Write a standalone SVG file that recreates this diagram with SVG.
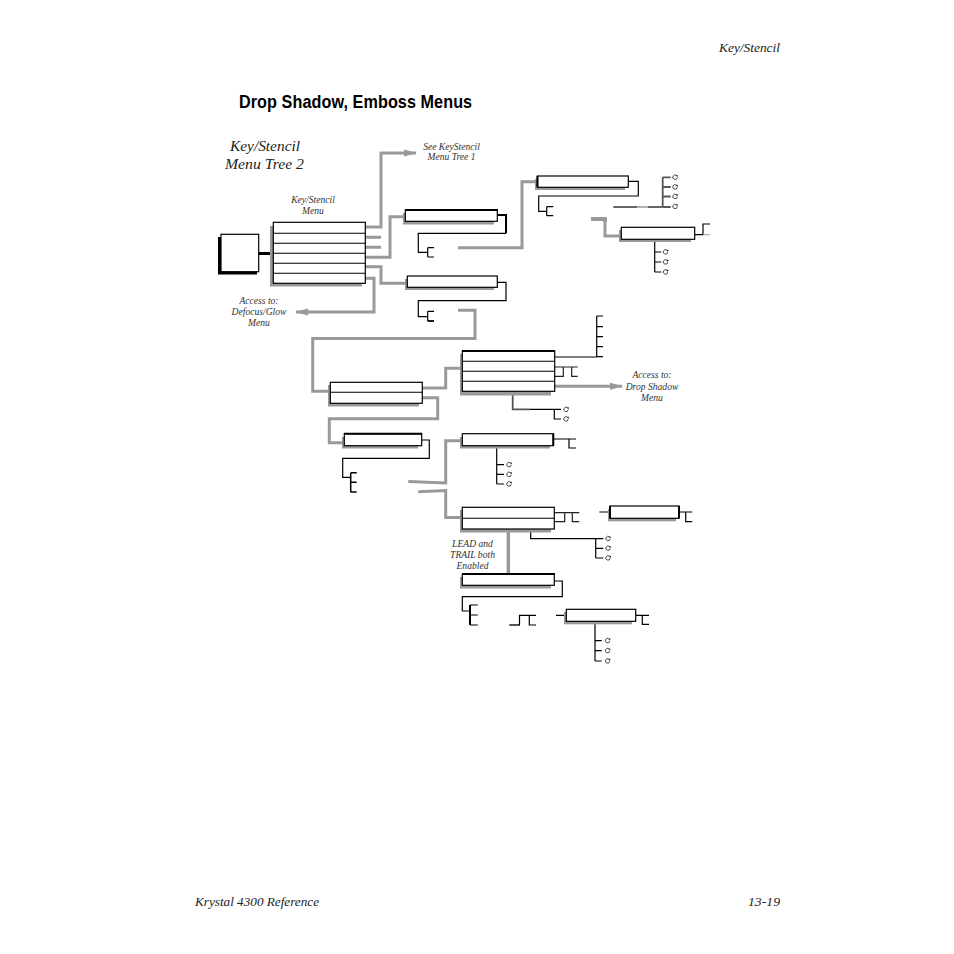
<svg xmlns="http://www.w3.org/2000/svg" width="954" height="954" viewBox="0 0 954 954">
<style>
text{font-family:"Liberation Serif",serif;font-style:italic;fill:#222}
.t8{font-size:9.6px;text-anchor:middle;fill:#333}
.g{fill:none;stroke:#999;stroke-width:3}
.k{fill:none;stroke:#000;stroke-width:1.2}
.d{fill:none;stroke:#555;stroke-width:1.8}
.n{fill:none;stroke:#222;stroke-width:1.2}
.b{fill:#fff;stroke:#000;stroke-width:1.2}
.s{fill:#999;stroke:none}
.l{stroke:#000;stroke-width:1.1}
.r{fill:none;stroke:#333;stroke-width:.9}
</style>
<defs>
<g id="c"><path class="r" d="M1.500 -1.700A2.200 2.200 0 1 0 2.200 .2"/><path d="M.9 -2.200L3.200 -1.900L2.200 -.1Z" fill="#222"/></g>
<marker id="ah" markerWidth="14" markerHeight="9" refX="12" refY="4" orient="auto-start-reverse" markerUnits="userSpaceOnUse"><path d="M0 .5L13 4L0 7.500Z" fill="#999"/></marker>
</defs>
<rect width="954" height="954" fill="#fff"/>
<text x="780" y="52" text-anchor="end" font-size="13.500" textLength="61" lengthAdjust="spacingAndGlyphs">Key/Stencil</text>
<text transform="translate(239 108) scale(.9 1)" font-size="18" font-weight="700" style="font-family:'Liberation Sans',sans-serif;font-style:normal;fill:#000" textLength="259" lengthAdjust="spacing">Drop Shadow, Emboss Menus</text>
<text x="230" y="151" font-size="15.500" textLength="70" lengthAdjust="spacingAndGlyphs">Key/Stencil</text>
<text x="225" y="169" font-size="15.500" textLength="79" lengthAdjust="spacingAndGlyphs">Menu Tree 2</text>
<text class="t8" x="451.500" y="150">See KeyStencil</text>
<text class="t8" x="451.500" y="160">Menu Tree 1</text>
<text class="t8" x="313" y="203">Key/Stencil</text>
<text class="t8" x="313" y="214">Menu</text>
<text class="t8" x="259" y="304">Access to:</text>
<text class="t8" x="259" y="315">Defocus/Glow</text>
<text class="t8" x="259" y="326">Menu</text>
<text class="t8" x="652" y="378">Access to:</text>
<text class="t8" x="652" y="390">Drop Shadow</text>
<text class="t8" x="652" y="401">Menu</text>
<text class="t8" x="472.500" y="547">LEAD and</text>
<text class="t8" x="472.500" y="558">TRAIL both</text>
<text class="t8" x="472.500" y="569">Enabled</text>
<text x="195" y="906" font-size="13.500" textLength="124" lengthAdjust="spacingAndGlyphs">Krystal 4300 Reference</text>
<text x="780" y="906" text-anchor="end" font-size="13.500" textLength="32" lengthAdjust="spacingAndGlyphs">13-19</text>

<g id="connectors">
<path class="k" style="stroke-width:3" d="M258 253.500H271"/>
<path class="g" marker-end="url(#ah)" d="M365 227H381V153H416"/>
<path class="g" d="M365 237.300H381M365 247.300H381"/>
<path class="g" d="M365 257.300H390V216.700H405"/>
<path class="g" d="M365 266.700H381V283.300H408"/>
<path class="g" marker-end="url(#ah)" d="M365 278.300H374V312H296"/>
<path class="g" d="M458 247.700H522V181.700H538"/>
<path class="g" d="M458 310.300H475V338.500H312.700V391.300H331"/>
<path class="g" style="stroke-width:3.800" d="M591 219H605V222"/>
<path class="g" d="M605 220V236H621"/>
<path class="g" d="M422 388H445.700V368.300H463"/>
<path class="g" d="M422 397.700H437.700V418.700H329.300V442.700H345"/>
<path class="g" marker-end="url(#ah)" d="M555 386.300H622"/>
<path class="g" d="M408.300 481.500L445.700 483V440.700H463"/>
<path class="g" d="M418.300 491.700L445.700 490.500V517.500H463"/>
<path class="g" style="stroke-width:3.400" d="M508.300 529V574"/>

<path class="k" style="stroke-width:2" d="M497 215H506V233.300"/>
<path class="k" d="M506 233.300H418.300V252.300H427.700M427.700 247.700V257M427.700 247.700H434M427.700 257H434"/>
<path class="k" d="M497 282.300H506V300.700H418.300V316.700H427.700M427.700 311.300V321M427.700 311.300H434"/>
<path class="k" style="stroke-width:1.800" d="M427.700 321H434"/>
<path class="k" d="M628 181.300H638.300V196H538.700V211.300H546.700M546.700 206.700V215.700M546.700 206.700H553.300M546.700 215.700H553.300"/>
<path class="d" d="M613.300 207H637"/><path class="g" style="stroke-width:1.500" d="M637 207H648"/>
<path class="k" d="M648 207H662.700"/>
<path class="d" d="M662.700 177.300V207M662.700 177.300H670.700M662.700 187H670.700M662.700 196.500H670.700M662.700 207H670.700"/>
<path class="k" d="M694.700 234.700H703V224H710M703 224V234.700"/><path class="g" style="stroke-width:1" d="M703 234.700H710"/>
<path class="k" d="M654.700 239V272M654.700 252H661.300M654.700 262H661.300M654.700 272H661.300"/>
<path class="k" d="M421.700 440H429.300V458.300H342.700V477.300H350.700"/>
<path class="k" style="stroke-width:1.500" d="M350.700 472.700V492.300M350.700 472.700H356.700M350.700 482.300H356.700M350.700 492H356.700"/>
<path class="d" style="stroke-width:1.600" d="M554.700 357H596.700"/>
<path class="k" d="M596.700 316V357M596.700 316H603M596.700 326.700H603M596.700 336.700H603M596.700 346.700H603M596.700 356.700H603"/>
<path class="n" d="M554.700 367H577.700M563.300 367V376.300H554.700M571.700 367V376.300H577.700"/>
<path class="d" d="M512.700 395V409.300H530"/>
<path class="k" d="M530 409.300H561M554.300 409.300V419H561"/>
<path class="k" d="M553 439H576M569 439V448H576"/>
<path class="k" d="M496.700 445.700V484M496.700 464.700H504M496.700 474.300H504M496.700 484H504"/>
<path class="n" d="M554.300 512.700H579.300M564.700 512.700V521.700H554.300M572.300 512.700V521.700H579.300"/>
<path class="k" d="M530.700 529V538.700H603.300M595.700 538.700V558M595.700 548.300H603.300M595.700 558H603.300"/>
<path class="k" d="M599.300 512H610M679 512H692.300M685.700 512V521.700H692.300"/>
<path class="k" d="M554 581H562.300V596.700H462.300V611H470"/>
<path class="k" style="stroke-width:2" d="M470 605V625"/>
<path class="k" d="M470 605H477.700M470 615H477.700M470 625H477.700"/>
<path class="d" style="stroke-width:2" d="M509.300 625H520"/>
<path class="k" d="M519.500 625V615.300H536M529.300 615.300V625H536"/>
<path class="k" d="M556 615.300H566M635.700 615.300H649M642.300 615.300V624.300H649"/>
<path class="d" d="M595 621V661"/>
<path class="k" d="M595 640.700H601.700M595 650.700H601.700M595 661H601.700"/>
</g>

<g id="node-source"><rect x="218" y="237" width="39" height="37.500" fill="#000"/><rect class="b" x="221" y="234.300" width="37.700" height="37.400"/></g>
<g id="node-keystencil-menu"><path class="s" d="M270 226H362V286.500H270Z"/><rect class="b" x="273.300" y="222.300" width="92" height="61"/><path class="l" d="M273.300 233.300H365.300M273.300 243.300H365.300M273.300 253.300H365.300M273.300 263.300H365.300M273.300 273.300H365.300"/></g>
<g id="node-a"><rect class="s" x="403" y="213" width="91" height="11.500"/><rect class="b" x="405.300" y="210" width="92" height="11.300"/><path class="l" style="stroke-width:2.200" d="M405 210H498"/></g>
<g id="node-b"><rect class="s" x="405" y="279" width="89" height="11"/><rect class="b" x="407.300" y="276" width="90" height="11.300"/></g>
<g id="node-c"><rect class="s" x="535" y="179" width="90" height="11"/><rect class="b" x="537.300" y="176" width="91" height="11.300"/><path class="l" style="stroke-width:2" d="M537.500 176V187"/></g>
<g id="node-d"><rect class="s" x="619" y="230" width="72" height="12"/><rect class="b" x="621.300" y="227.300" width="73.400" height="12"/></g>
<g id="node-e"><rect class="s" x="328" y="385" width="91" height="21.500"/><rect class="b" x="330.300" y="382.300" width="92" height="21"/><path class="l" d="M330.300 392.300H422.300"/></g>
<g id="node-f"><rect class="s" x="342" y="437" width="76" height="11.500"/><rect class="b" x="344.300" y="433.700" width="77.400" height="12"/><path class="l" style="stroke-width:2" d="M344 433.700H422"/></g>
<g id="node-g"><rect class="s" x="460" y="354" width="91" height="41.500"/><rect class="b" x="462.300" y="351" width="92.400" height="40.300"/><path class="l" d="M462.300 361.300H554.700M462.300 371.300H554.700M462.300 381.300H554.700"/><path class="l" style="stroke-width:2" d="M462 351H555"/></g>
<g id="node-h"><rect class="s" x="460" y="437" width="90" height="11.500"/><rect class="b" x="462.300" y="433.700" width="91" height="12"/><path class="l" style="stroke-width:2" d="M553.300 433.700V445.700"/></g>
<g id="node-i"><rect class="s" x="460" y="510" width="91" height="22.500"/><rect class="b" x="462.300" y="507.300" width="92" height="21.700"/><path class="l" d="M462.300 518.300H554.300"/></g>
<g id="node-j"><rect class="s" x="608" y="509" width="68" height="12.300"/><rect class="b" x="610" y="506" width="69" height="12.300"/><path class="l" style="stroke-width:2" d="M610 506V518.300M679 506V518.300"/></g>
<g id="node-k"><rect class="s" x="460" y="577" width="91" height="11.500"/><rect class="b" x="462.300" y="574" width="92" height="11.300"/><path class="l" style="stroke-width:2" d="M462 574H555"/></g>
<g id="node-l"><rect class="s" x="564" y="612" width="68" height="12.300"/><rect class="b" x="566.300" y="609.300" width="69.400" height="12"/></g>

<g id="toggles">
<use href="#c" x="675" y="177.300"/><use href="#c" x="675" y="187"/><use href="#c" x="675" y="196.500"/><use href="#c" x="675" y="206.500"/>
<use href="#c" x="665.500" y="252"/><use href="#c" x="665.500" y="262"/><use href="#c" x="665.500" y="272"/>
<use href="#c" x="566" y="409.500"/><use href="#c" x="566" y="419"/>
<use href="#c" x="509" y="464.700"/><use href="#c" x="509" y="474.500"/><use href="#c" x="509" y="484"/>
<use href="#c" x="608" y="538.700"/><use href="#c" x="608" y="548.300"/><use href="#c" x="608" y="558"/>
<use href="#c" x="607.500" y="640.700"/><use href="#c" x="607.500" y="650.700"/><use href="#c" x="607.500" y="661"/>
</g>
</svg>
